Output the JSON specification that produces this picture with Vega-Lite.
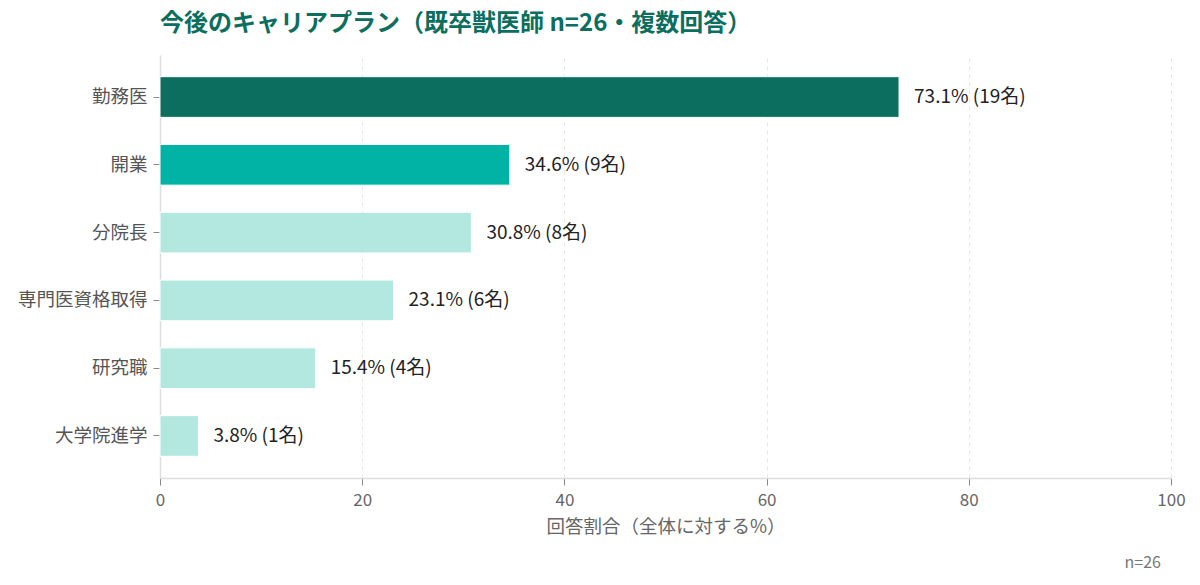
{
  "$schema": "https://vega.github.io/schema/vega-lite/v6.json",
  "width": 1011,
  "height": 423,
  "autosize": "none",
  "padding": {"left": 160, "top": 55, "right": 29, "bottom": 107},
  "background": "white",
  "config": {
    "font": "Noto Sans CJK JP",
    "view": {"stroke": null}
  },
  "title": {
    "text": "今後のキャリアプラン（既卒獣医師 n=26・複数回答）",
    "anchor": "start",
    "frame": "group",
    "fontSize": 24,
    "fontWeight": "bold",
    "color": "#0b6e5e",
    "font": "Noto Sans CJK JP",
    "offset": 19
  },
  "data": {
    "values": [
      {"item": "勤務医", "pct": 73.1, "n": 19, "label": "73.1% (19名)", "grp": "top"},
      {"item": "開業", "pct": 34.6, "n": 9, "label": "34.6% (9名)", "grp": "second"},
      {"item": "分院長", "pct": 30.8, "n": 8, "label": "30.8% (8名)", "grp": "other"},
      {"item": "専門医資格取得", "pct": 23.1, "n": 6, "label": "23.1% (6名)", "grp": "other"},
      {"item": "研究職", "pct": 15.4, "n": 4, "label": "15.4% (4名)", "grp": "other"},
      {"item": "大学院進学", "pct": 3.8, "n": 1, "label": "3.8% (1名)", "grp": "other"}
    ]
  },
  "encoding": {
    "y": {
      "field": "item",
      "type": "nominal",
      "sort": null,
      "scale": {"paddingInner": 0.4, "paddingOuter": 0.32},
      "axis": {
        "title": null,
        "labelFontSize": 18.5,
        "labelColor": "#555555",
        "labelPadding": 6,
        "tickSize": 7,
        "tickColor": "#888888",
        "domainColor": "#dddddd",
        "domainWidth": 1.5,
        "labelFont": "Noto Sans CJK JP"
      }
    }
  },
  "layer": [
    {
      "mark": {"type": "bar", "stroke": "white", "strokeWidth": 1},
      "encoding": {
        "x": {
          "field": "pct",
          "type": "quantitative",
          "scale": {"domain": [0, 100]},
          "axis": {
            "title": "回答割合（全体に対する%）",
            "titleFontSize": 18.5,
            "titleFontWeight": "normal",
            "titleColor": "#666666",
            "titlePadding": 9,
            "labelFontSize": 17,
            "labelColor": "#666666",
            "labelPadding": 7,
            "labelOverlap": false,
            "labelFlush": false,
            "values": [0, 20, 40, 60, 80, 100],
            "tickSize": 7,
            "tickColor": "#888888",
            "domainColor": "#dddddd",
            "domainWidth": 1.5,
            "grid": true,
            "gridDash": [4, 4],
            "gridColor": "#e6e6e6",
            "labelFont": "Noto Sans CJK JP",
            "titleFont": "Noto Sans CJK JP"
          }
        },
        "color": {
          "field": "grp",
          "type": "nominal",
          "scale": {"domain": ["top", "second", "other"], "range": ["#0b6e5e", "#00b3a4", "#b3e8e0"]},
          "legend": null
        }
      }
    },
    {
      "mark": {"type": "text", "align": "left", "baseline": "middle", "dx": 15, "fontSize": 19, "color": "#222222", "font": "Noto Sans CJK JP"},
      "encoding": {
        "x": {"field": "pct", "type": "quantitative"},
        "text": {"field": "label"}
      }
    },
    {
      "data": {"values": [{"note": "n=26"}]},
      "mark": {"type": "text", "align": "right", "baseline": "middle", "dx": -10, "dy": 85, "fontSize": 16, "color": "#777777", "font": "Noto Sans CJK JP"},
      "encoding": {
        "x": {"datum": 100},
        "y": {"value": 423},
        "text": {"field": "note"}
      }
    }
  ]
}
